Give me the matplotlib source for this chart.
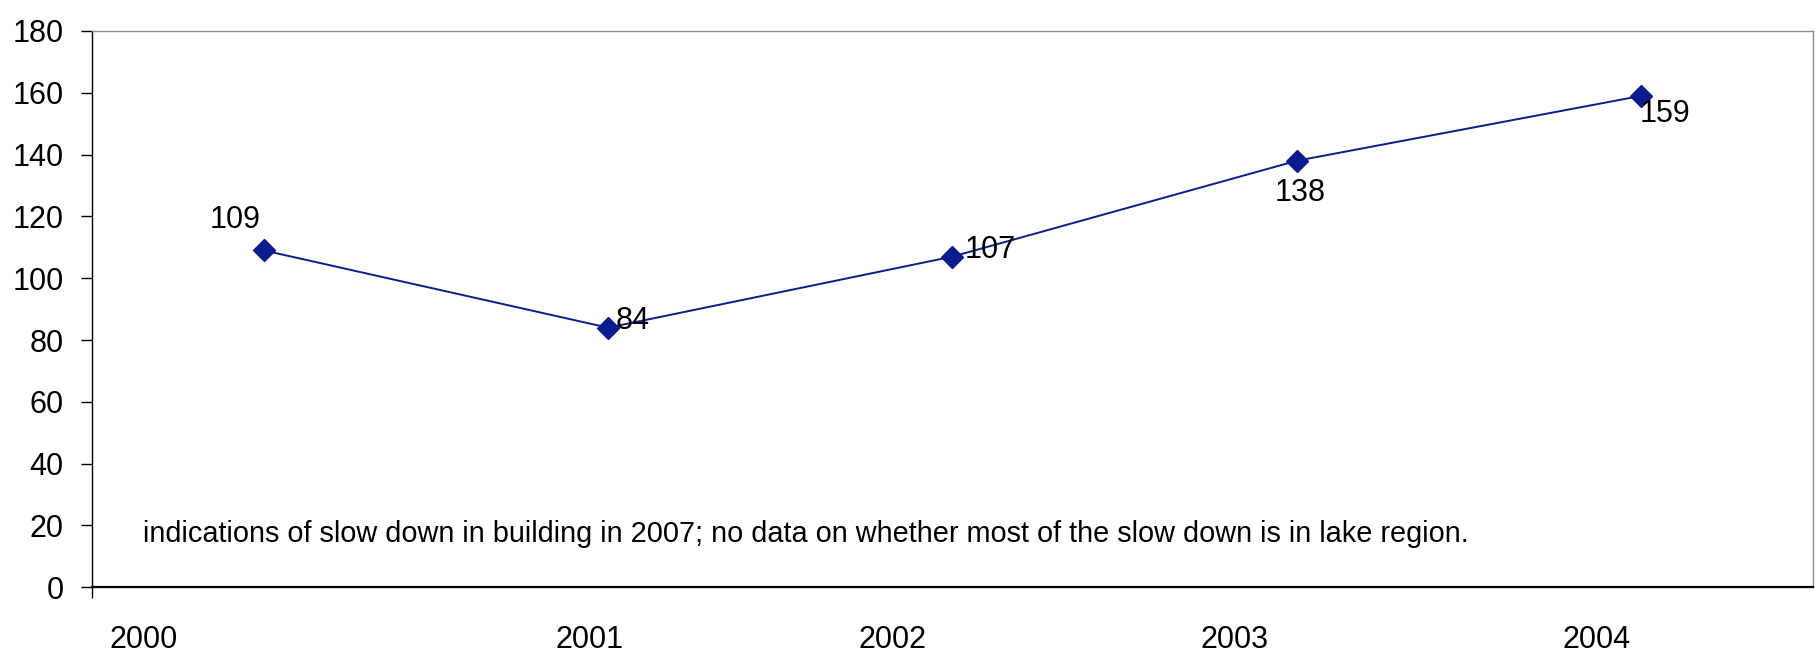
import matplotlib
matplotlib.use("Agg")
import matplotlib.pyplot as plt
from matplotlib.ticker import FixedLocator

plt.rcParams['font.family'] = ['Liberation Sans', 'DejaVu Sans']

# Data
years = ["2000", "2001", "2002", "2003", "2004"]
values = [109, 84, 107, 138, 159]
note = ("indications of slow down in building in 2007; "
        "no data on whether most of the slow down is in lake region.")

# Where each year label sits along the category axis
year_label_pos = [-0.35, 0.945, 1.825, 2.82, 3.87]
# Offsets (points) of the value labels relative to their markers
label_offsets = [(-21, 22), (17.5, 5), (27.5, 5), (2.5, -23), (17.5, -13)]

line_color = "#0B1C8F"

fig = plt.figure(figsize=(18.2, 6.54), dpi=100)
ax = fig.add_axes([0.0504, 0.102, 0.9458, 0.8506])

x = list(range(len(values)))
ax.plot(x, values, color=line_color, lw=1.4, marker="D", ms=11,
        markerfacecolor=line_color, markeredgecolor=line_color, zorder=3)

for xi, v, (dx, dy) in zip(x, values, label_offsets):
    ax.annotate(str(v), (xi, v), xytext=(dx, dy), textcoords="offset points",
                ha="center", va="center", fontsize=22, color="black")

ax.set_xlim(-0.5, len(values) - 0.5)
ax.set_ylim(0, 180)
ax.set_yticks(range(0, 181, 20))
ax.tick_params(axis="y", labelsize=22, length=7.7, width=1, direction="out", pad=12.5)

ax.xaxis.set_major_locator(FixedLocator(year_label_pos))
ax.set_xticklabels(years)
ax.xaxis.set_minor_locator(FixedLocator([-0.5]))
ax.tick_params(axis="x", which="major", labelsize=22, length=0, pad=27)
ax.tick_params(axis="x", which="minor", length=8, width=1, direction="out")

ax.text(0.030, 0.082, note, transform=ax.transAxes, ha="left", va="baseline",
        fontsize=20.8, color="black")

ax.spines["left"].set_color("black")
ax.spines["left"].set_linewidth(1.0)
ax.spines["bottom"].set_color("black")
ax.spines["bottom"].set_linewidth(1.6)
for s in ("top", "right"):
    ax.spines[s].set_color("#8c8c8c")
    ax.spines[s].set_linewidth(1.0)

fig.savefig("out.png", dpi=100, facecolor="white")
